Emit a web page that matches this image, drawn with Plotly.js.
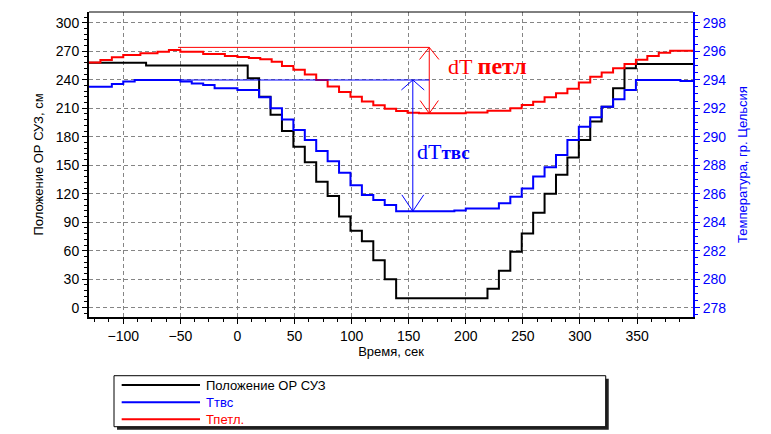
<!DOCTYPE html>
<html><head><meta charset="utf-8">
<script src="https://cdn.plot.ly/plotly-3.0.1.min.js"></script>
<style>html,body{margin:0;padding:0;background:#fff}</style>
</head><body>
<div id="chart" style="width:771px;height:434px"></div>
<script>
// Положение ОР СУЗ (left axis, cm) – step series, x = step start time, s
const rodTime = [-130, -80, 9, 19, 29, 39, 49, 59, 69, 79, 89, 99, 109, 119, 129, 139, 219, 229, 239, 249, 259, 269, 279, 289, 299, 309, 319, 329, 339, 349, 399];
const rodPos  = [258, 255, 241.5, 222, 203, 186, 169.5, 153, 132.5, 117.5, 96, 81, 70, 50, 30, 10, 20, 39, 59, 78, 100, 120, 140, 158, 176.5, 196, 211.5, 231, 252, 256.5, 256.5];

// Ттвс (right axis, °C)
const tvsTime = [-130, -110, -100, -90, -50, -40, -30, -20, 0, 19, 29, 39, 49, 59, 69, 79, 89, 99, 109, 119, 129, 139, 190, 200, 229, 239, 249, 259, 269, 279, 289, 299, 309, 319, 329, 339, 349, 388, 399];
const tvsTemp = [293.51, 293.70, 293.87, 293.98, 293.87, 293.73, 293.63, 293.40, 293.27, 292.77, 292.00, 291.20, 290.47, 289.77, 289.00, 288.27, 287.47, 286.60, 285.91, 285.56, 285.20, 284.77, 284.83, 284.97, 285.33, 285.79, 286.37, 287.20, 287.85, 288.71, 289.77, 290.70, 291.36, 292.11, 292.63, 293.27, 293.98, 293.91, 293.91];

// Тпетл. (right axis, °C)
const petlTime = [-130, -120, -110, -100, -85, -70, -60, -50, -30, -11, 0, 10, 20, 30, 39, 49, 59, 69, 79, 89, 99, 109, 119, 129, 139, 149, 159, 200, 219, 239, 249, 259, 269, 279, 289, 299, 309, 319, 329, 339, 349, 359, 369, 379, 399];
const petlTemp = [295.20, 295.38, 295.57, 295.73, 295.85, 295.97, 296.08, 295.97, 295.80, 295.67, 295.60, 295.53, 295.43, 295.27, 294.97, 294.70, 294.37, 293.98, 293.53, 293.13, 292.80, 292.47, 292.20, 291.97, 291.80, 291.69, 291.64, 291.70, 291.83, 292.00, 292.23, 292.45, 292.77, 293.05, 293.37, 293.80, 294.20, 294.50, 294.80, 295.10, 295.40, 295.67, 295.90, 296.03, 296.03];

const seriesNames = ['Положение ОР СУЗ', 'Ттвс', 'Тпетл.'];
const seriesColors = ['#000000', '#0000ff', '#ff0000'];

// dT annotations (data units: time s, temperature °C)
const dtPetl = {x: 168, lineFrom: -52, top: 296.27, bottom: Math.min(...petlTemp), labelX: 183, labelT: 294.96};
const dtTvs  = {x: 153.6, lineFrom: -55, lineTo: 168, top: Math.max(...tvsTemp), bottom: Math.min(...tvsTemp), labelX: 155.5, labelT: 288.93};

const RED = seriesColors[2], BLUE = seriesColors[1];
const font = 'Arial, "Liberation Sans", sans-serif';
const serif = '"Times New Roman", "Liberation Serif", serif';

const series = [[rodTime, rodPos, 'y'], [tvsTime, tvsTemp, 'y2'], [petlTime, petlTemp, 'y2']];
const traces = series.map(function (s, i) {
  return {x: s[0], y: s[1], name: seriesNames[i], type: 'scatter', mode: 'lines',
          line: {shape: 'hv', color: seriesColors[i], width: 2}, yaxis: s[2], showlegend: false};
});

function seg(x0, y0, x1, y1, color) {
  return {type: 'line', xref: 'x', yref: 'y2', x0: x0, y0: y0, x1: x1, y1: y1, line: {color: color, width: 1}};
}
function head(x, y, dx, dy, color) { // open V arrowhead; dy>0 points up
  return {type: 'path', xref: 'x', yref: 'y2', path: `M${x-dx},${y-dy} L${x},${y} L${x+dx},${y-dy}`, line: {color: color, width: 1}};
}

const shapes = [
  // legend shadow + box (paper coords, below the plot)
  {type: 'rect', xref: 'paper', yref: 'paper', x0: 0.0464, x1: 0.8605, y0: -0.3695, y1: -0.2024, fillcolor: '#222', line: {width: 0}},
  {type: 'rect', xref: 'paper', yref: 'paper', x0: 0.0414, x1: 0.8555, y0: -0.3597, y1: -0.1925, fillcolor: '#fff', line: {color: '#000', width: 1}},
  // top frame line
  {type: 'line', xref: 'paper', yref: 'paper', x0: 0, x1: 1, y0: 1, y1: 1, line: {color: '#000', width: 1}},
  // dT петл
  seg(dtPetl.lineFrom, dtPetl.top, dtPetl.x, dtPetl.top, RED),
  seg(dtPetl.x, dtPetl.top, dtPetl.x, dtPetl.bottom, RED),
  head(dtPetl.x, dtPetl.top, 8.5, 0.85, RED),
  head(dtPetl.x, dtPetl.bottom, 8, -0.9, RED),
  // dT твс
  seg(dtTvs.lineFrom, dtTvs.top, dtTvs.lineTo, dtTvs.top, BLUE),
  seg(dtTvs.x, dtTvs.top, dtTvs.x, dtTvs.bottom, BLUE),
  head(dtTvs.x, dtTvs.top, 10, 0.7, BLUE),
  head(dtTvs.x, dtTvs.bottom, 9.6, -1.15, BLUE)
];

const annotations = [
  {xref: 'x', yref: 'y2', x: dtPetl.labelX, y: dtPetl.labelT, xanchor: 'left', yanchor: 'middle', showarrow: false,
   text: 'dT <b><span style="font-size:24px">петл</span></b>', font: {family: serif, size: 22, color: RED}},
  {xref: 'x', yref: 'y2', x: dtTvs.labelX, y: dtTvs.labelT, xanchor: 'left', yanchor: 'middle', showarrow: false,
   text: 'dT<b><span style="font-size:19px">твс</span></b>', font: {family: serif, size: 22, color: BLUE}}
];

// legend rows (paper coords)
const legRowY = [-0.2230, -0.2797, -0.3354];
seriesNames.forEach(function (n, i) {
  shapes.push({type: 'line', xref: 'paper', yref: 'paper', x0: 0.0541, x1: 0.1838, y0: legRowY[i], y1: legRowY[i],
               line: {color: seriesColors[i], width: 2}});
  annotations.push({xref: 'paper', yref: 'paper', x: 0.1909, y: legRowY[i], xanchor: 'left', yanchor: 'middle',
                    showarrow: false, text: n, font: {family: font, size: 13, color: seriesColors[i]}});
});

const grid = {showgrid: true, gridcolor: '#858585', gridwidth: 1, griddash: '4px,3px'};

const layout = {
  width: 771, height: 434,
  margin: {l: 89, r: 78, t: 12, b: 117, pad: 0},
  paper_bgcolor: '#fff', plot_bgcolor: '#fff',
  font: {family: font, size: 13, color: '#000'},
  showlegend: false,
  xaxis: Object.assign({
    range: [-130, 399], tick0: 0, dtick: 50, zeroline: false,
    showline: true, linecolor: '#000', linewidth: 2,
    ticks: 'outside', ticklen: 5, tickwidth: 1, tickcolor: '#000',
    minor: {dtick: 12.5, ticks: 'outside', ticklen: 3, tickcolor: '#000', showgrid: false},
    tickfont: {family: font, size: 14, color: '#000'},
    title: {text: 'Время, сек', font: {family: font, size: 13, color: '#000'}, standoff: 4},
    automargin: false
  }, grid),
  yaxis: Object.assign({
    range: [-9.8, 311.3], tick0: 0, dtick: 30, zeroline: false,
    showline: true, linecolor: '#000', linewidth: 2,
    ticks: 'outside', ticklen: 5, tickwidth: 1, tickcolor: '#000',
    minor: {dtick: 6, ticks: 'outside', ticklen: 3, tickcolor: '#000', showgrid: false},
    tickfont: {family: font, size: 14, color: '#000'},
    title: {text: 'Положение ОР СУЗ, см', font: {family: font, size: 13, color: '#000'}, standoff: 9},
    automargin: false
  }, grid),
  yaxis2: {
    overlaying: 'y', side: 'right', range: [277.347, 298.753], tick0: 278, dtick: 2,
    showgrid: false, zeroline: false,
    showline: true, linecolor: BLUE, linewidth: 2,
    ticks: 'outside', ticklen: 5, tickwidth: 1, tickcolor: BLUE,
    minor: {dtick: 0.5, ticks: 'outside', ticklen: 3, tickcolor: BLUE, showgrid: false},
    tickfont: {family: font, size: 14, color: BLUE},
    title: {text: 'Температура, гр. Цельсия', font: {family: font, size: 13, color: BLUE}, standoff: 13},
    automargin: false
  },
  shapes: shapes,
  annotations: annotations
};

Plotly.newPlot('chart', traces, layout, {displayModeBar: false, staticPlot: true});
</script>
</body></html>
